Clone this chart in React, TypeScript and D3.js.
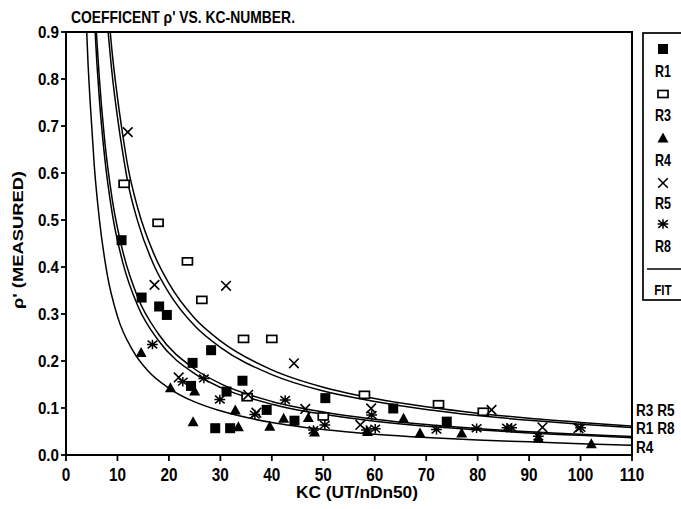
import React from 'react';
import * as d3 from 'd3';

// ---- axis ticks ----
const xTicks = [0, 10, 20, 30, 40, 50, 60, 70, 80, 90, 100, 110];
const yTicks = [0, 0.1, 0.2, 0.3, 0.4, 0.5, 0.6, 0.7, 0.8, 0.9];

// ---- measured points [KC, rho'] ----
const r1Points = [
  [10.8, 0.457], [14.7, 0.335], [18.1, 0.316], [19.6, 0.298], [28.2, 0.223], [24.6, 0.196],
  [34.3, 0.158], [24.3, 0.147], [31.2, 0.135], [39.0, 0.096], [44.4, 0.073], [29.0, 0.057],
  [31.9, 0.057], [50.4, 0.121], [63.6, 0.099], [74.0, 0.071],
];
const r3Points = [
  [11.3, 0.577], [17.9, 0.494], [23.6, 0.412], [26.4, 0.330], [34.5, 0.247], [40.0, 0.247],
  [35.2, 0.123], [50.0, 0.082], [58.0, 0.128], [72.4, 0.108], [81.1, 0.092],
];
const r4Points = [
  [14.6, 0.218], [20.3, 0.143], [25.0, 0.136], [24.7, 0.071], [32.9, 0.096], [33.5, 0.060],
  [39.6, 0.061], [42.3, 0.078], [47.1, 0.080], [48.3, 0.049], [58.6, 0.050], [65.6, 0.078],
  [68.8, 0.047], [76.9, 0.047], [91.8, 0.036], [102.1, 0.024],
];
const r5Points = [
  [12.0, 0.687], [17.2, 0.362], [31.1, 0.360], [44.3, 0.195], [21.9, 0.165], [35.4, 0.128],
  [46.5, 0.098], [59.3, 0.099], [57.2, 0.064], [82.7, 0.096], [92.6, 0.059], [99.6, 0.057],
  [37.0, 0.090],
];
const r8Points = [
  [16.8, 0.235], [22.7, 0.156], [26.8, 0.163], [29.9, 0.118], [36.7, 0.086], [42.6, 0.117],
  [48.1, 0.053], [50.3, 0.064], [58.4, 0.053], [60.1, 0.056], [59.4, 0.085], [72.0, 0.054],
  [79.8, 0.057], [85.7, 0.058], [86.6, 0.058], [91.8, 0.040], [100.0, 0.058],
];

// ---- fit curves ----
const fitKcTop = [8.0, 9, 10, 11, 12, 14, 17, 20, 25, 30, 40, 50, 60, 70, 80, 90, 100, 110];
const fitR3 = [0.977, 0.853, 0.761, 0.683, 0.615, 0.523, 0.430, 0.365, 0.291, 0.243, 0.181, 0.144, 0.120, 0.1025, 0.0889, 0.0781, 0.0694, 0.0617];
const fitR5 = [0.923, 0.807, 0.719, 0.645, 0.581, 0.495, 0.406, 0.345, 0.275, 0.229, 0.171, 0.136, 0.114, 0.0969, 0.0841, 0.0739, 0.0656, 0.0583];
const fitKcMid = [5.5, 6, 6.5, 7.5, 9, 11, 14, 18, 25, 30, 40, 50, 60, 70, 80, 90, 100, 110];
const fitR8 = [0.987, 0.882, 0.799, 0.671, 0.543, 0.435, 0.334, 0.257, 0.183, 0.152, 0.114, 0.0915, 0.0761, 0.0648, 0.0565, 0.0493, 0.0442, 0.0391];
const fitR1 = [0.933, 0.834, 0.755, 0.635, 0.513, 0.411, 0.316, 0.243, 0.173, 0.144, 0.108, 0.0865, 0.0719, 0.0612, 0.0535, 0.0467, 0.0418, 0.0369];
const fitKcLow = [3.8, 4.3, 4.7, 5.5, 6.5, 8, 10, 13, 16, 20, 25, 30, 40, 50, 60, 70, 80, 90, 100, 110];
const fitR4 = [0.96, 0.828, 0.75, 0.615, 0.5, 0.385, 0.295, 0.222, 0.178, 0.142, 0.113, 0.094, 0.069, 0.054, 0.044, 0.037, 0.032, 0.028, 0.024, 0.021];

const legendLabels = ['R1', 'R3', 'R4', 'R5', 'R8'];
const endLabels = ['R3  R5', 'R1  R8', 'R4'];

const FONT = "'Liberation Sans', Arial, sans-serif";

function T({ x, y, size, anchor = 'start', sx = 1, rotate = 0, children, len }: any) {
  return (
    <text
      transform={`translate(${x},${y}) rotate(${rotate}) scale(${sx},1)`}
      fontFamily={FONT}
      fontWeight="bold"
      fontSize={size}
      textAnchor={anchor}
      fill="#000"
      textLength={len}
      lengthAdjust={len ? 'spacingAndGlyphs' : undefined}
    >
      {children}
    </text>
  );
}

function Marker({ kind, cx, cy }: any) {
  const s = 4.8;
  switch (kind) {
    case 'R1':
      return <rect x={cx - 5} y={cy - 5} width={10} height={10} fill="#000" />;
    case 'R3':
      return <rect x={cx - 5} y={cy - 3.5} width={10} height={7} fill="#fff" stroke="#000" strokeWidth={1.7} />;
    case 'R4':
      return <path d={`M${cx},${cy - 5.5} L${cx + 5.5},${cy + 4.5} L${cx - 5.5},${cy + 4.5} Z`} fill="#000" />;
    case 'R5':
      return (
        <path
          d={`M${cx - s},${cy - s} L${cx + s},${cy + s} M${cx - s},${cy + s} L${cx + s},${cy - s}`}
          stroke="#000" strokeWidth={1.6} fill="none"
        />
      );
    case 'R8':
    default:
      return (
        <path
          d={`M${cx - s},${cy - s * 0.8} L${cx + s},${cy + s * 0.8} M${cx - s},${cy + s * 0.8} L${cx + s},${cy - s * 0.8} M${cx - s - 0.6},${cy} L${cx + s + 0.6},${cy} M${cx},${cy - s} L${cx},${cy + s}`}
          stroke="#000" strokeWidth={1.5} fill="none"
        />
      );
  }
}

export default function App() {
  const W = 681, H = 509;
  const x = d3.scaleLinear().domain([0, 110]).range([66, 632]);
  const y = d3.scaleLinear().domain([0, 0.9]).range([455, 32]);

  const line = d3
    .line<[number, number]>()
    .x((d) => x(d[0]))
    .y((d) => y(d[1]))
    .curve(d3.curveMonotoneX);

  const fits: [number[], number[]][] = [
    [fitKcTop, fitR3], [fitKcTop, fitR5], [fitKcMid, fitR1], [fitKcMid, fitR8], [fitKcLow, fitR4],
  ];

  const series: [string, number[][]][] = [
    ['R1', r1Points], ['R3', r3Points], ['R4', r4Points], ['R5', r5Points], ['R8', r8Points],
  ];

  const legendY = [49, 94, 138, 183, 224];
  const legendTextY = [77, 121, 166, 209, 252];
  const endY = [410, 428, 447];

  return (
    <svg width={W} height={H} style={{ position: 'absolute', left: 0, top: 0, background: '#fff' }}>
      <rect x={0} y={0} width={W} height={H} fill="#fff" />
      <defs>
        <clipPath id="plotClip">
          <rect x={x(0)} y={y(0.9)} width={x(110) - x(0)} height={y(0) - y(0.9)} />
        </clipPath>
      </defs>

      {/* title */}
      <T x={71} y={23} size={17} len={224}>COEFFICENT ρ' VS. KC-NUMBER.</T>

      {/* fit curves */}
      <g clipPath="url(#plotClip)">
        {fits.map(([kc, vals], i) => (
          <path
            key={i}
            d={line(kc.map((k, j) => [k, vals[j]] as [number, number])) || ''}
            fill="none"
            stroke="#000"
            strokeWidth={1.5}
          />
        ))}
      </g>

      {/* markers */}
      {series.map(([kind, pts]) =>
        pts.map((p, i) => <Marker key={kind + i} kind={kind} cx={x(p[0])} cy={y(p[1])} />)
      )}

      {/* frame */}
      <rect x={x(0)} y={y(0.9)} width={x(110) - x(0)} height={y(0) - y(0.9)} fill="none" stroke="#000" strokeWidth={2} />

      {/* y ticks */}
      {yTicks.map((t) => (
        <g key={'y' + t}>
          <line x1={x(0) - 5} x2={x(0)} y1={y(t)} y2={y(t)} stroke="#000" strokeWidth={1.8} />
          <T x={59} y={y(t) + 6} size={16} anchor="end" sx={0.95}>{t.toFixed(1)}</T>
        </g>
      ))}

      {/* x ticks */}
      {xTicks.map((t) => (
        <g key={'x' + t}>
          <line x1={x(t)} x2={x(t)} y1={y(0)} y2={y(0) + 6} stroke="#000" strokeWidth={1.8} />
          <T x={x(t)} y={481} size={18} anchor="middle" sx={0.85}>{String(t)}</T>
        </g>
      ))}

      {/* axis labels */}
      <T x={357} y={498} size={16} anchor="middle" len={122}>KC  (UT/nDn50)</T>
      <T x={23} y={240} size={15} anchor="middle" rotate={-90} len={138}>ρ'  (MEASURED)</T>

      {/* curve end labels */}
      {endLabels.map((l, i) => (
        <T key={l} x={636} y={endY[i] + 6} size={17} sx={0.8}>{l}</T>
      ))}

      {/* legend */}
      <rect x={643} y={33} width={60} height={267} fill="none" stroke="#000" strokeWidth={1.7} />
      {legendLabels.map((l, i) => (
        <g key={l}>
          <Marker kind={l} cx={663} cy={legendY[i]} />
          <T x={663} y={legendTextY[i]} size={16} anchor="middle" sx={0.78}>{l}</T>
        </g>
      ))}
      <line x1={647} x2={681} y1={269} y2={269} stroke="#000" strokeWidth={1.7} />
      <T x={663} y={295} size={15} anchor="middle" sx={0.78}>FIT</T>
    </svg>
  );
}
